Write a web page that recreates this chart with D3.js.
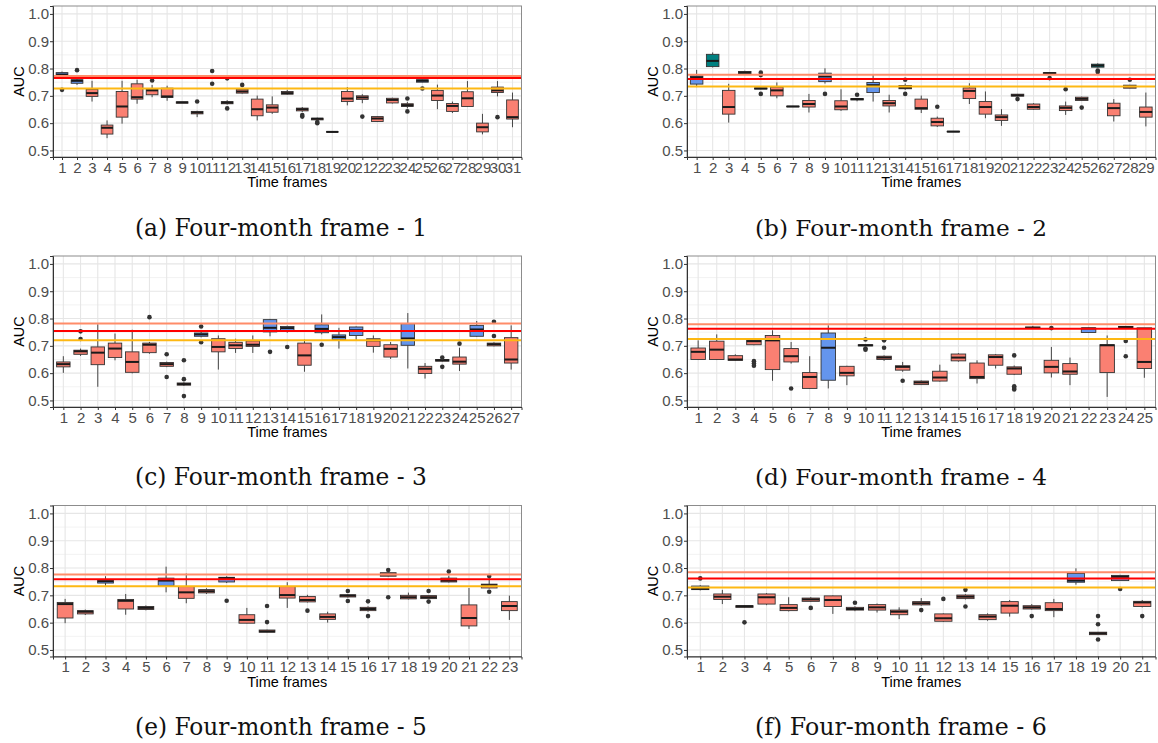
<!DOCTYPE html>
<html>
<head>
<meta charset="utf-8">
<script src="https://cdn.jsdelivr.net/npm/d3@7"></script>
<style>
  body { margin: 0; background: #fff; }
  svg { display: block; }
</style>
</head>
<body>
<svg id="chart" width="1158" height="743"></svg>
<script>
// ---- axis ticks -------------------------------------------------------
const yTicks = [0.5, 0.6, 0.7, 0.8, 0.9, 1.0];
const yMinor = [0.55, 0.65, 0.75, 0.85, 0.95];
const yDomain = [0.476, 1.029];

// ---- per-frame box statistics: [lower whisker, Q1, median, Q3, upper whisker]
// groups: S = below benchmark, B = comparable, T = above benchmark
// refs: [benchmark upper, benchmark, benchmark lower]

// Four-month frame 1
const boxA = [
  [0.770,0.773,0.778,0.785,0.789],[0.740,0.746,0.755,0.759,0.763],[0.679,0.698,0.710,0.724,0.755],
  [0.545,0.560,0.583,0.593,0.610],[0.598,0.622,0.661,0.716,0.755],[0.671,0.688,0.695,0.744,0.759],
  [0.695,0.704,0.720,0.724,0.740],[0.682,0.694,0.698,0.728,0.737],[0.673,0.673,0.676,0.678,0.678],
  [0.622,0.634,0.639,0.643,0.645],[0.764,0.766,0.768,0.771,0.773],[0.668,0.671,0.675,0.679,0.684],
  [0.708,0.710,0.716,0.724,0.727],[0.610,0.627,0.651,0.688,0.701],[0.634,0.640,0.657,0.667,0.698],
  [0.704,0.706,0.710,0.716,0.722],[0.641,0.645,0.651,0.655,0.659],[0.610,0.612,0.616,0.618,0.620],
  [0.566,0.567,0.568,0.569,0.570],[0.665,0.679,0.690,0.716,0.732],[0.673,0.687,0.694,0.700,0.706],
  [0.604,0.606,0.617,0.624,0.626],[0.672,0.674,0.685,0.691,0.693],[0.654,0.661,0.666,0.671,0.678],
  [0.749,0.750,0.755,0.759,0.760],[0.651,0.683,0.701,0.720,0.741],[0.637,0.643,0.663,0.672,0.679],
  [0.659,0.661,0.691,0.715,0.754],[0.559,0.568,0.585,0.600,0.634],[0.698,0.712,0.720,0.732,0.754],
  [0.585,0.615,0.622,0.685,0.712]
];
const outA = [[0.722],[0.794],[],[],[],[],[0.756],[],[],[0.679],[0.791,0.744],[0.654,0.764],[0.740],[],[],
  [],[0.630,0.624],[0.604,0.600],[],[],[0.624],[],[],[0.690,0.643],[0.727],[],[],[],[],[0.622],[]];
const groupA = "BBSSSSSSSSSSSSSSSSSSSSSSBSSSSSS";
const refA = [0.773, 0.765, 0.727];

// Four-month frame 2
const boxB = [
  [0.732,0.743,0.768,0.773,0.795],[0.804,0.807,0.828,0.852,0.859],[0.602,0.633,0.659,0.720,0.744],
  [0.777,0.780,0.785,0.789,0.792],[0.724,0.725,0.727,0.729,0.731],[0.691,0.700,0.720,0.732,0.749],
  [0.659,0.660,0.661,0.662,0.663],[0.639,0.659,0.670,0.683,0.707],[0.745,0.752,0.771,0.783,0.801],
  [0.645,0.649,0.661,0.682,0.724],[0.680,0.685,0.688,0.690,0.692],[0.679,0.712,0.739,0.749,0.780],
  [0.639,0.663,0.673,0.683,0.704],[0.722,0.726,0.730,0.738,0.745],[0.637,0.651,0.655,0.688,0.701],
  [0.586,0.590,0.604,0.618,0.624],[0.568,0.568,0.569,0.570,0.570],[0.670,0.690,0.718,0.729,0.746],
  [0.618,0.633,0.659,0.679,0.716],[0.590,0.610,0.622,0.630,0.651],[0.697,0.699,0.702,0.706,0.707],
  [0.649,0.651,0.659,0.670,0.673],[0.778,0.780,0.783,0.785,0.787],[0.630,0.646,0.656,0.663,0.679],
  [0.681,0.683,0.689,0.695,0.697],[0.803,0.805,0.811,0.816,0.819],[0.606,0.627,0.655,0.673,0.688],
  [0.727,0.728,0.734,0.739,0.740],[0.588,0.622,0.641,0.659,0.712]
];
const outB = [[],[],[],[],[0.785,0.776,0.707],[],[],[],[0.707],[],[0.704],[],[],[0.759,0.707],[],
  [0.660],[],[],[],[],[0.688],[],[0.765],[0.724],[0.657],[0.793,0.787],[],[0.759],[]];
const groupB = "BTSTSSSSBSSBSSSSSSSSSSSSSTSSS";
const refB = [0.777, 0.762, 0.734];

// Four-month frame 3
const boxC = [
  [0.601,0.623,0.633,0.641,0.662],[0.663,0.669,0.680,0.684,0.690],[0.550,0.631,0.675,0.696,0.779],
  [0.647,0.657,0.690,0.710,0.745],[0.599,0.603,0.641,0.678,0.759],[0.671,0.675,0.704,0.710,0.714],
  [0.622,0.625,0.633,0.639,0.642],[0.553,0.556,0.560,0.564,0.567],[0.731,0.735,0.742,0.747,0.757],
  [0.613,0.678,0.696,0.726,0.738],[0.674,0.690,0.702,0.713,0.726],[0.674,0.698,0.704,0.718,0.738],
  [0.735,0.751,0.766,0.796,0.799],[0.748,0.754,0.765,0.771,0.774],[0.605,0.629,0.665,0.710,0.723],
  [0.742,0.748,0.762,0.777,0.815],[0.690,0.723,0.732,0.740,0.766],[0.718,0.738,0.757,0.769,0.771],
  [0.675,0.698,0.720,0.726,0.738],[0.652,0.659,0.689,0.704,0.714],[0.617,0.702,0.727,0.781,0.820],
  [0.580,0.599,0.616,0.625,0.637],[0.642,0.644,0.647,0.650,0.652],[0.608,0.633,0.642,0.659,0.693],
  [0.733,0.735,0.760,0.775,0.791],[0.698,0.700,0.706,0.710,0.713],[0.613,0.637,0.650,0.730,0.775]
];
const outC = [[],[0.753,0.725],[],[],[],[0.805],[0.669,0.586],[0.647,0.578,0.516],[0.771,0.713],[],[],[],
  [0.678],[0.696],[],[0.704],[],[],[],[],[],[],[0.657,0.623],[0.708],[],[0.788,0.736],[]];
const groupC = "SSSSSSSSBSSSBBSBBBSSBSSSBSS";
const refC = [0.782, 0.754, 0.720];

// Four-month frame 4
const boxD = [
  [0.648,0.650,0.678,0.692,0.720],[0.648,0.650,0.686,0.717,0.742],[0.645,0.647,0.650,0.664,0.669],
  [0.702,0.704,0.717,0.720,0.722],[0.572,0.613,0.720,0.738,0.757],[0.635,0.641,0.662,0.690,0.714],
  [0.543,0.544,0.586,0.602,0.662],[0.544,0.574,0.693,0.747,0.775],[0.556,0.590,0.601,0.625,0.627],
  [0.698,0.700,0.702,0.704,0.706],[0.645,0.650,0.657,0.662,0.665],[0.605,0.611,0.623,0.627,0.641],
  [0.557,0.558,0.566,0.571,0.573],[0.569,0.571,0.584,0.607,0.631],[0.642,0.645,0.657,0.670,0.673],
  [0.562,0.580,0.586,0.637,0.647],[0.617,0.629,0.659,0.667,0.670],[0.593,0.596,0.617,0.623,0.628],
  [0.764,0.765,0.766,0.769,0.773],[0.584,0.601,0.623,0.647,0.696],[0.556,0.596,0.606,0.635,0.657],
  [0.747,0.749,0.764,0.765,0.766],[0.513,0.602,0.702,0.704,0.738],[0.763,0.764,0.769,0.771,0.773],
  [0.583,0.617,0.641,0.766,0.766]
];
const outD = [[],[],[],[0.644,0.635,0.627],[],[0.544],[],[],[],[0.723,0.690,0.686],[0.720,0.693],[0.572],
  [],[],[],[],[],[0.665,0.552,0.546,0.540],[],[0.765],[],[],[],[0.718,0.662],[]];
const groupD = "SSSSSSSBSSSSSSSSSSSSSBSSS";
const refD = [0.779, 0.763, 0.725];

// Four-month frame 5
const boxE = [
  [0.598,0.617,0.668,0.674,0.687],[0.628,0.632,0.640,0.644,0.648],[0.735,0.745,0.752,0.757,0.770],
  [0.629,0.650,0.680,0.685,0.705],[0.645,0.648,0.654,0.659,0.663],[0.711,0.735,0.754,0.763,0.805],
  [0.671,0.689,0.711,0.732,0.780],[0.705,0.709,0.715,0.721,0.726],[0.745,0.749,0.763,0.766,0.770],
  [0.597,0.598,0.610,0.629,0.654],[0.564,0.565,0.568,0.573,0.574],[0.654,0.690,0.701,0.732,0.748],
  [0.674,0.676,0.683,0.696,0.702],[0.600,0.612,0.621,0.632,0.640],[0.692,0.694,0.699,0.702,0.705],
  [0.640,0.644,0.650,0.656,0.660],[0.768,0.770,0.776,0.783,0.786],[0.685,0.687,0.693,0.700,0.710],
  [0.686,0.688,0.693,0.699,0.701],[0.747,0.749,0.754,0.763,0.772],[0.577,0.588,0.617,0.665,0.727],
  [0.725,0.727,0.737,0.741,0.765],[0.610,0.644,0.661,0.677,0.699]
];
const outE = [[],[],[],[],[],[],[],[],[0.680],[],[0.661,0.602],[],[0.644],[],[0.716,0.679],[0.678,0.624],
  [0.793,0.693],[],[0.716,0.677],[0.787],[],[0.713,0.771],[]];
const groupE = "SSBSSBSSBSSSSSSSSSSSSSS";
const refE = [0.776, 0.759, 0.733];

// Four-month frame 6
const boxF = [
  [0.718,0.721,0.724,0.734,0.737],[0.668,0.685,0.695,0.705,0.720],[0.654,0.656,0.660,0.662,0.663],
  [0.664,0.668,0.693,0.705,0.708],[0.641,0.644,0.654,0.666,0.693],[0.676,0.678,0.685,0.690,0.693],
  [0.632,0.659,0.683,0.698,0.700],[0.642,0.646,0.650,0.656,0.660],[0.637,0.646,0.656,0.666,0.670],
  [0.613,0.629,0.640,0.646,0.656],[0.662,0.665,0.671,0.677,0.690],[0.602,0.605,0.616,0.632,0.634],
  [0.685,0.688,0.695,0.701,0.704],[0.607,0.611,0.622,0.629,0.634],[0.622,0.635,0.662,0.677,0.683],
  [0.648,0.650,0.656,0.662,0.668],[0.620,0.644,0.650,0.673,0.687],[0.739,0.748,0.754,0.780,0.799],
  [0.555,0.556,0.561,0.565,0.566],[0.754,0.754,0.768,0.773,0.775],[0.656,0.659,0.674,0.678,0.683]
];
const outF = [[0.762],[],[0.601],[],[],[0.654],[],[0.673],[],[],[0.646],[0.687],[0.720,0.659],[],[],
  [0.624],[],[],[0.624,0.594,0.538],[0.723],[0.624]];
const groupF = "BSSSSSSSSSSSSSSSSBSBS";
const refF = [0.785, 0.762, 0.729];

const captions = [
  "(a) Four-month frame - 1", "(b) Four-month frame - 2",
  "(c) Four-month frame - 3", "(d) Four-month frame - 4",
  "(e) Four-month frame - 5", "(f) Four-month frame - 6"
];

// ---- styling ----------------------------------------------------------
const groupFill = { S: "#FA8072", B: "#6495ED", T: "#008080" };
const refColors = ["#FF8C69", "#FF0000", "#FDB813"];
const sansFont = "'Liberation Sans', Arial, Helvetica, sans-serif";
const serifFont = "'DejaVu Serif', serif";

const colLeft = [53, 687];
const rowTop = [6, 256, 505.5];
const plotW = 468.5;
const plotH = 151;
const captionCx = [281, 901];
const captionBase = [236, 485, 735];
const captionWidth = 292;

const panels = [
  { box: boxA, out: outA, grp: groupA, ref: refA },
  { box: boxB, out: outB, grp: groupB, ref: refB },
  { box: boxC, out: outC, grp: groupC, ref: refC },
  { box: boxD, out: outD, grp: groupD, ref: refD },
  { box: boxE, out: outE, grp: groupE, ref: refE },
  { box: boxF, out: outF, grp: groupF, ref: refF }
];

const svg = d3.select("#chart");
svg.append("rect").attr("width", 1158).attr("height", 743).attr("fill", "#fff");

panels.forEach((p, idx) => {
  const col = idx % 2, row = Math.floor(idx / 2);
  const left = colLeft[col], top = rowTop[row];
  const right = left + plotW, bottom = top + plotH;
  const frames = p.box.map((d, i) => String(i + 1));

  const x = d3.scalePoint().domain(frames).range([left, right]).padding(0.6);
  const y = d3.scaleLinear().domain(yDomain).range([bottom, top]);
  const step = x.step();
  const bw = step * 0.78;

  const g = svg.append("g");

  // grid
  g.append("g").selectAll("line").data(yMinor).join("line")
    .attr("x1", left).attr("x2", right)
    .attr("y1", d => y(d)).attr("y2", d => y(d))
    .attr("stroke", "#EDEDED").attr("stroke-width", 0.7);
  g.append("g").selectAll("line").data(yTicks).join("line")
    .attr("x1", left).attr("x2", right)
    .attr("y1", d => y(d)).attr("y2", d => y(d))
    .attr("stroke", "#E6E6E6").attr("stroke-width", 1.1);
  g.append("g").selectAll("line").data(frames).join("line")
    .attr("x1", d => x(d)).attr("x2", d => x(d))
    .attr("y1", top).attr("y2", bottom)
    .attr("stroke", "#E6E6E6").attr("stroke-width", 1.1);

  // boxes
  const bx = g.append("g").selectAll("g").data(p.box).join("g");
  bx.append("line")
    .attr("x1", (d, i) => x(frames[i])).attr("x2", (d, i) => x(frames[i]))
    .attr("y1", d => y(d[0])).attr("y2", d => y(d[1]))
    .attr("stroke", "#333").attr("stroke-width", 0.9);
  bx.append("line")
    .attr("x1", (d, i) => x(frames[i])).attr("x2", (d, i) => x(frames[i]))
    .attr("y1", d => y(d[3])).attr("y2", d => y(d[4]))
    .attr("stroke", "#333").attr("stroke-width", 0.9);
  bx.append("rect")
    .attr("x", (d, i) => x(frames[i]) - bw / 2)
    .attr("width", bw)
    .attr("y", d => y(d[3]))
    .attr("height", d => Math.max(0.5, y(d[1]) - y(d[3])))
    .attr("fill", (d, i) => groupFill[p.grp[i]])
    .attr("stroke", "#333").attr("stroke-width", 0.9);
  bx.append("line")
    .attr("x1", (d, i) => x(frames[i]) - bw / 2).attr("x2", (d, i) => x(frames[i]) + bw / 2)
    .attr("y1", d => y(d[2])).attr("y2", d => y(d[2]))
    .attr("stroke", "#1a1a1a").attr("stroke-width", 2);

  // outliers
  const pts = [];
  p.out.forEach((arr, i) => arr.forEach(v => pts.push({ f: frames[i], v })));
  g.append("g").selectAll("circle").data(pts).join("circle")
    .attr("cx", d => x(d.f)).attr("cy", d => y(d.v)).attr("r", 2.3)
    .attr("fill", "#333");

  // benchmark lines
  g.append("g").selectAll("line").data(p.ref).join("line")
    .attr("x1", left).attr("x2", right)
    .attr("y1", d => y(d)).attr("y2", d => y(d))
    .attr("stroke", (d, i) => refColors[i]).attr("stroke-width", 2);

  // panel border
  g.append("rect").attr("x", left).attr("y", top).attr("width", plotW).attr("height", plotH)
    .attr("fill", "none").attr("stroke", "#8C8C8C").attr("stroke-width", 1);

  // axes
  const ay = g.append("g").attr("transform", `translate(${left},0)`)
    .call(d3.axisLeft(y).tickValues(yTicks).tickFormat(d3.format(".1f")).tickSize(3).tickPadding(1));
  const ax = g.append("g").attr("transform", `translate(0,${bottom})`)
    .call(d3.axisBottom(x).tickSize(3).tickPadding(2));
  [ax, ay].forEach(a => {
    a.select(".domain").attr("stroke", "#333").attr("stroke-width", 1);
    a.selectAll(".tick line").attr("stroke", "#333").attr("stroke-width", 1);
    a.selectAll("text").attr("fill", "#4D4D4D")
      .style("font-family", sansFont).style("font-size", "15px");
  });

  // axis titles
  g.append("text").attr("transform", `translate(${left - 29},${(top + bottom) / 2}) rotate(-90)`)
    .attr("text-anchor", "middle").style("font-family", sansFont).style("font-size", "14.5px")
    .attr("fill", "#000").text("AUC");
  g.append("text").attr("x", (left + right) / 2).attr("y", bottom + 30)
    .attr("text-anchor", "middle").style("font-family", sansFont).style("font-size", "14.5px")
    .attr("fill", "#000").text("Time frames");

  // caption
  const cap = svg.append("text").attr("x", captionCx[col]).attr("y", captionBase[row])
    .attr("text-anchor", "middle").style("font-family", serifFont).style("font-size", "22px")
    .attr("fill", "#111").text(captions[idx]);
  const len = cap.node().getComputedTextLength();
  cap.style("font-size", (22 * captionWidth / len).toFixed(2) + "px");
});
</script>
</body>
</html>
